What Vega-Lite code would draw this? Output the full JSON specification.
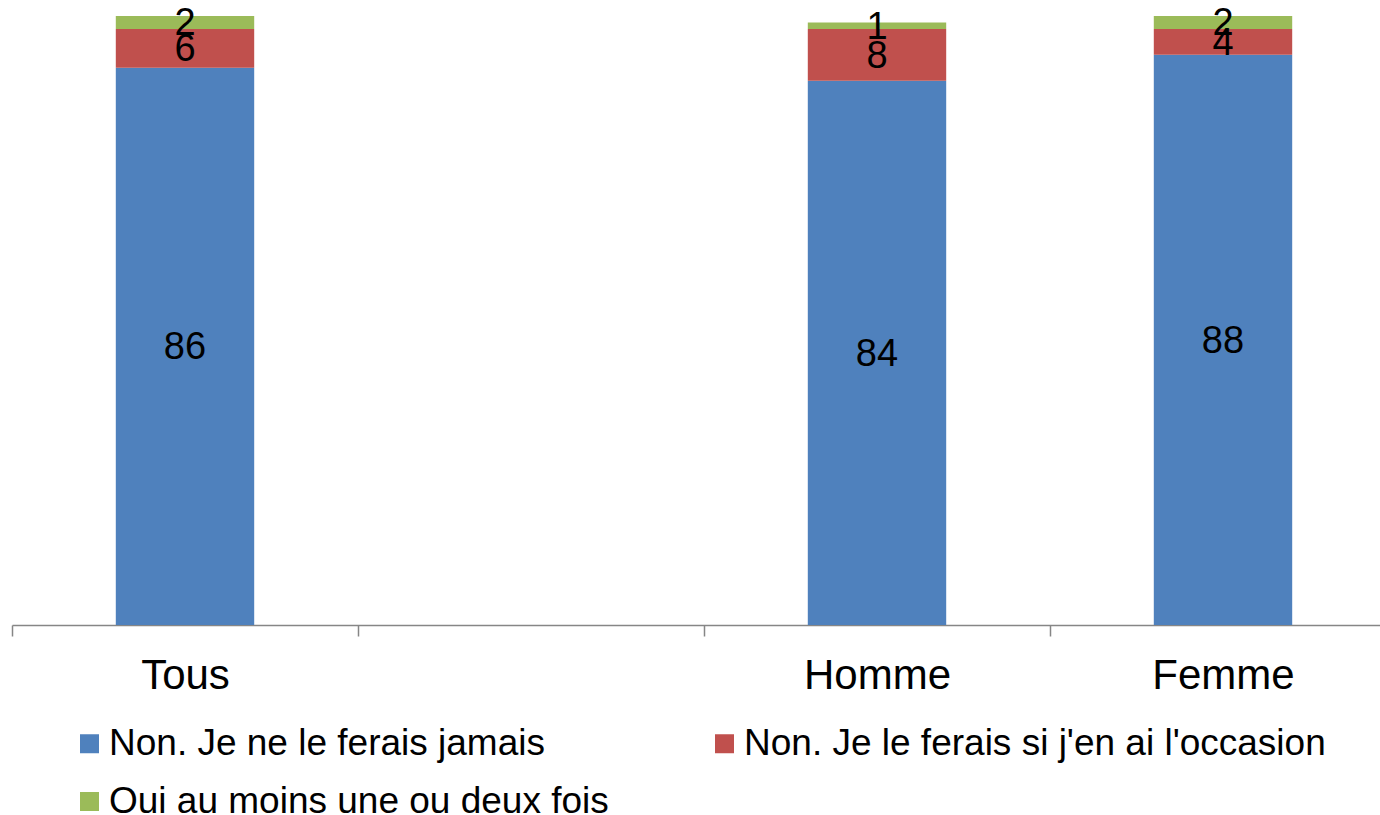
{
  "$schema": "https://vega.github.io/schema/vega-lite/v6.json",
  "autosize": "none",
  "width": 1368,
  "height": 609,
  "padding": {"left": 12, "top": 16, "right": 0, "bottom": 190},
  "background": "white",
  "config": {"view": {"stroke": null}, "font": "Liberation Sans"},
  "data": {
    "values": [
      {"cat": "Tous", "serie": "Non. Je ne le ferais jamais", "value": 86},
      {"cat": "Tous", "serie": "Non. Je le ferais si j'en ai l'occasion", "value": 6},
      {"cat": "Tous", "serie": "Oui au moins une ou deux fois", "value": 2},
      {"cat": "Homme", "serie": "Non. Je ne le ferais jamais", "value": 84},
      {"cat": "Homme", "serie": "Non. Je le ferais si j'en ai l'occasion", "value": 8},
      {"cat": "Homme", "serie": "Oui au moins une ou deux fois", "value": 1},
      {"cat": "Femme", "serie": "Non. Je ne le ferais jamais", "value": 88},
      {"cat": "Femme", "serie": "Non. Je le ferais si j'en ai l'occasion", "value": 4},
      {"cat": "Femme", "serie": "Oui au moins une ou deux fois", "value": 2}
    ]
  },
  "transform": [
    {"calculate": "indexof(['Non. Je ne le ferais jamais', \"Non. Je le ferais si j'en ai l'occasion\", 'Oui au moins une ou deux fois'], datum.serie)", "as": "k"},
    {"stack": "value", "groupby": ["cat"], "sort": [{"field": "k", "order": "ascending"}], "as": ["v0", "v1"]},
    {"calculate": "(datum.v0 + datum.v1) / 2", "as": "mid"}
  ],
  "encoding": {
    "x": {
      "field": "cat",
      "type": "nominal",
      "sort": null,
      "scale": {"domain": ["Tous", " ", "Homme", "Femme"], "range": [0, 1384], "paddingInner": 0, "paddingOuter": 0},
      "axis": {
        "title": null,
        "labelAngle": 0,
        "labelFont": "Liberation Sans",
        "labelFontSize": 42,
        "labelColor": "black",
        "labelPadding": 19,
        "tickBand": "extent",
        "tickSize": 11,
        "tickColor": "#868686",
        "tickWidth": 1.5,
        "domainColor": "#868686",
        "domainWidth": 1.5,
        "grid": false
      }
    }
  },
  "layer": [
    {
      "mark": {"type": "bar", "width": {"band": 0.4}},
      "encoding": {
        "y": {"field": "v0", "type": "quantitative", "scale": {"domain": [0, 94], "nice": false, "zero": true}, "axis": null},
        "y2": {"field": "v1"},
        "color": {
          "field": "serie",
          "type": "nominal",
          "scale": {
            "domain": ["Non. Je ne le ferais jamais", "Oui au moins une ou deux fois", "Non. Je le ferais si j'en ai l'occasion"],
            "range": ["#4F81BD", "#9BBB59", "#C0504D"]
          },
          "legend": {
            "title": null,
            "orient": "none",
            "legendX": 59,
            "legendY": 709,
            "padding": 0,
            "columns": 2,
            "symbolType": "square",
            "symbolSize": 361,
            "symbolStrokeWidth": 0,
            "labelFont": "Liberation Sans",
            "labelFontSize": 37,
            "labelColor": "black",
            "labelOffset": 1,
            "labelLimit": 0,
            "rowPadding": 20,
            "columnPadding": 97
          }
        }
      }
    },
    {
      "mark": {"type": "text", "font": "Liberation Sans", "fontSize": 38, "color": "black", "baseline": "middle", "align": "center", "dy": 2},
      "encoding": {
        "y": {"field": "mid", "type": "quantitative"},
        "text": {"field": "value", "type": "quantitative"}
      }
    }
  ]
}
